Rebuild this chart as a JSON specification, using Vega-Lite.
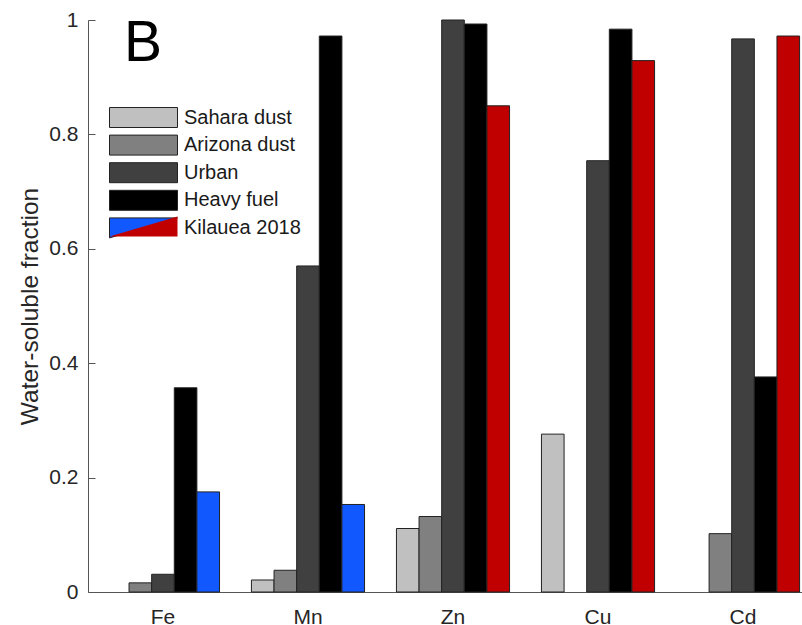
{
  "$schema": "https://vega.github.io/schema/vega-lite/v6.json",
  "width": 714,
  "height": 572,
  "autosize": {"type": "none"},
  "padding": {"left": 88, "top": 20, "right": 0, "bottom": 33},
  "background": "white",
  "config": {"view": {"stroke": null}, "font": "Liberation Sans"},
  "title": {"text": "B", "anchor": "start", "frame": "group", "fontSize": 57, "fontWeight": "normal", "color": "black", "baseline": "alphabetic", "offset": -109, "dx": 36, "font": "Liberation Sans"},
  "data": {"values": [
    {"metal": "Fe", "source": "Arizona dust", "value": 0.016},
    {"metal": "Fe", "source": "Urban", "value": 0.031},
    {"metal": "Fe", "source": "Heavy fuel", "value": 0.357},
    {"metal": "Fe", "source": "Kilauea 2018", "value": 0.175},
    {"metal": "Mn", "source": "Sahara dust", "value": 0.021},
    {"metal": "Mn", "source": "Arizona dust", "value": 0.038},
    {"metal": "Mn", "source": "Urban", "value": 0.570},
    {"metal": "Mn", "source": "Heavy fuel", "value": 0.972},
    {"metal": "Mn", "source": "Kilauea 2018", "value": 0.153},
    {"metal": "Zn", "source": "Sahara dust", "value": 0.111},
    {"metal": "Zn", "source": "Arizona dust", "value": 0.132},
    {"metal": "Zn", "source": "Urban", "value": 1.0},
    {"metal": "Zn", "source": "Heavy fuel", "value": 0.993},
    {"metal": "Zn", "source": "Kilauea 2018", "value": 0.850},
    {"metal": "Cu", "source": "Sahara dust", "value": 0.276},
    {"metal": "Cu", "source": "Urban", "value": 0.754},
    {"metal": "Cu", "source": "Heavy fuel", "value": 0.984},
    {"metal": "Cu", "source": "Kilauea 2018", "value": 0.929},
    {"metal": "Cd", "source": "Arizona dust", "value": 0.102},
    {"metal": "Cd", "source": "Urban", "value": 0.967},
    {"metal": "Cd", "source": "Heavy fuel", "value": 0.376},
    {"metal": "Cd", "source": "Kilauea 2018", "value": 0.972}
  ]},
  "encoding": {
    "x": {"field": "metal", "type": "nominal", "sort": ["Fe", "Mn", "Zn", "Cu", "Cd"],
      "scale": {"range": [0, 730], "paddingInner": 0.22, "paddingOuter": 0.127},
      "axis": {"title": null, "labelAngle": 0, "labelFontSize": 21, "labelColor": "#262626", "labelFont": "Liberation Sans",
        "domainColor": "#555555", "tickColor": "#555555", "tickSize": -7, "labelPadding": 21.4, "grid": false}},
    "xOffset": {"field": "source", "type": "nominal",
      "scale": {"domain": ["Sahara dust", "Arizona dust", "Urban", "Heavy fuel", "Kilauea 2018"], "paddingInner": 0, "paddingOuter": 0}},
    "y": {"field": "value", "type": "quantitative",
      "scale": {"domain": [0, 1], "nice": false},
      "axis": {"title": "Water-soluble fraction", "values": [0, 0.2, 0.4, 0.6, 0.8, 1], "format": "~g", "grid": false,
        "domainColor": "#555555", "tickColor": "#555555", "tickSize": -7, "labelPadding": 17,
        "labelFontSize": 21, "labelColor": "#262626", "labelFont": "Liberation Sans",
        "titleFontSize": 24.5, "titleFontWeight": "normal", "titleColor": "#262626", "titleFont": "Liberation Sans",
        "titleX": -51, "titleBaseline": "alphabetic"}}
  },
  "layer": [
    {
      "transform": [{"filter": "!(datum.source === 'Kilauea 2018' && indexof(['Zn','Cu','Cd'], datum.metal) >= 0)"}],
      "mark": {"type": "bar", "stroke": "#222222", "strokeWidth": 1},
      "encoding": {
        "fill": {"field": "source", "type": "nominal",
          "scale": {"domain": ["Sahara dust", "Arizona dust", "Urban", "Heavy fuel", "Kilauea 2018"],
                    "range": ["#c0c0c0", "#808080", "#404040", "#000000", "#1258ff"]},
          "legend": {"orient": "none", "legendX": 45, "legendY": 87, "title": null,
            "symbolType": "M-3.4,-1H3.4V1H-3.4Z", "symbolSize": 400, "symbolStrokeColor": "#222222", "symbolStrokeWidth": 1,
            "symbolOpacity": 1, "labelFontSize": 20, "labelColor": "#1a1a1a", "labelFont": "Liberation Sans", "labelOffset": 30,
            "rowPadding": 2.6, "padding": 0,
            "encode": {"symbols": {"update": {"shape": {"signal": "datum.value === 'Kilauea 2018' ? 'M-3.4,-1H3.4L-3.4,1Z' : 'M-3.4,-1H3.4V1H-3.4Z'"}}}}}}
      }
    },
    {
      "transform": [{"filter": "datum.source === 'Kilauea 2018' && indexof(['Zn','Cu','Cd'], datum.metal) >= 0"}],
      "mark": {"type": "bar", "stroke": "#222222", "strokeWidth": 1, "fill": "#c00000"}
    },
    {
      "transform": [{"filter": "datum.source === 'Kilauea 2018' && datum.metal === 'Cd'"}],
      "mark": {"type": "point", "size": 0, "opacity": 1, "filled": true, "fill": "#c00000", "color": "#c00000", "stroke": "#222222", "strokeWidth": 1},
      "encoding": {
        "shape": {"field": "source", "type": "nominal",
          "scale": {"domain": ["Kilauea 2018"], "range": ["M3.4,-1V1H-3.4Z"]},
          "legend": {"orient": "none", "legendX": 45, "legendY": 196, "title": null,
            "symbolSize": 400, "symbolStrokeColor": "#222222", "symbolStrokeWidth": 1,
            "symbolOpacity": 1, "symbolFillColor": "#c00000", "labelFontSize": 20, "labelOpacity": 0, "labelFont": "Liberation Sans", "labelOffset": 30,
            "rowPadding": 2.6, "padding": 0}}
      }
    }
  ]
}
